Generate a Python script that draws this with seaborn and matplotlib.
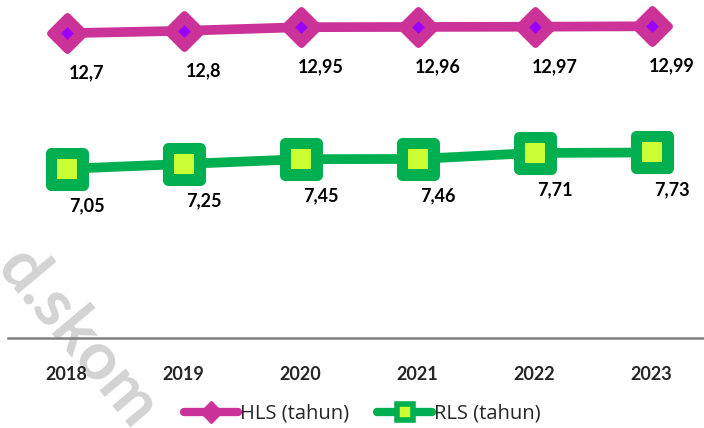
import pandas as pd
import matplotlib.pyplot as plt
import seaborn as sns
from matplotlib.lines import Line2D
from matplotlib.markers import MarkerStyle

# Data
years = ["2018", "2019", "2020", "2021", "2022", "2023"]
hls = [12.7, 12.8, 12.95, 12.96, 12.97, 12.99]
rls = [7.05, 7.25, 7.45, 7.46, 7.71, 7.73]
hls_labels = ["12,7", "12,8", "12,95", "12,96", "12,97", "12,99"]
rls_labels = ["7,05", "7,25", "7,45", "7,46", "7,71", "7,73"]

df = pd.DataFrame({"tahun": years, "HLS": hls, "RLS": rls})

sns.set_style("white")
plt.rcParams["font.family"] = ["Lato", "DejaVu Sans"]

pink = "#CC3399"
purple = "#9900FF"
green = "#00B050"
lime = "#CCFF33"

fig = plt.figure(figsize=(7.04, 4.28), dpi=100)
ax = fig.add_axes([8 / 704, 90 / 428, 702 / 704, 336 / 428])
ax.patch.set_alpha(0)

# HLS line: pink diamonds with purple centre
sns.lineplot(data=df, x="tahun", y="HLS", ax=ax, color=pink, linewidth=7,
             marker=MarkerStyle("D", joinstyle="round"), markersize=17,
             markeredgecolor=pink, markeredgewidth=5, clip_on=False, zorder=3)
sns.scatterplot(data=df, x="tahun", y="HLS", ax=ax, color=purple, marker="D",
                s=42, linewidth=0, zorder=4, clip_on=False)

# RLS line: green squares with lime centre
sns.lineplot(data=df, x="tahun", y="RLS", ax=ax, color=green, linewidth=7,
             marker=MarkerStyle("s", joinstyle="round"), markersize=23,
             markeredgecolor=green, markeredgewidth=8, clip_on=False, zorder=3)
sns.scatterplot(data=df, x="tahun", y="RLS", ax=ax, color=lime, marker="s",
                s=190, linewidth=0, zorder=4, clip_on=False)

# value labels
for i, (lab, v) in enumerate(zip(hls_labels, hls)):
    ax.annotate(lab, (i, v), xytext=(20, -40), textcoords="offset pixels",
                ha="center", va="center", fontsize=13, fontweight="bold", color="black")
for i, (lab, v) in enumerate(zip(rls_labels, rls)):
    ax.annotate(lab, (i, v), xytext=(20, -37), textcoords="offset pixels",
                ha="center", va="center", fontsize=13, fontweight="bold", color="black")

ax.set_xlim(-0.5, 5.5)
ax.set_ylim(0, 14)
ax.set_xlabel("")
ax.set_ylabel("")
ax.set_yticks([])
ax.tick_params(axis="x", length=0, pad=20, labelsize=13)
for t in ax.get_xticklabels():
    t.set_fontweight("bold")
for s in ["left", "top", "right"]:
    ax.spines[s].set_visible(False)
ax.spines["bottom"].set_color("#808080")
ax.spines["bottom"].set_linewidth(1.8)

# watermark (cut off at the edges, as in the original), behind the axes
fig.text(78 / 704, 1 - 338 / 428, "d.skom", rotation=-50, ha="center", va="center",
         fontsize=48, fontweight="bold", color="#d3d3d3", zorder=-1)

# legend
handles = [
    Line2D([], [], color=pink, linewidth=6, marker="D", markersize=11,
           markerfacecolor=pink, markeredgecolor=pink),
    Line2D([], [], color=green, linewidth=6, marker="s", markersize=11,
           markerfacecolor=lime, markeredgecolor=green, markeredgewidth=4),
]
fig.legend(handles, ["HLS (tahun)", "RLS (tahun)"], loc="center",
           bbox_to_anchor=(362 / 704, 1 - 414 / 428), ncol=2, frameon=False,
           prop={"family": ["Open Sans", "DejaVu Sans"], "size": 14.5},
           handlelength=2.7, handletextpad=0.1, columnspacing=1.4)

fig.savefig("out.png", dpi=100)
